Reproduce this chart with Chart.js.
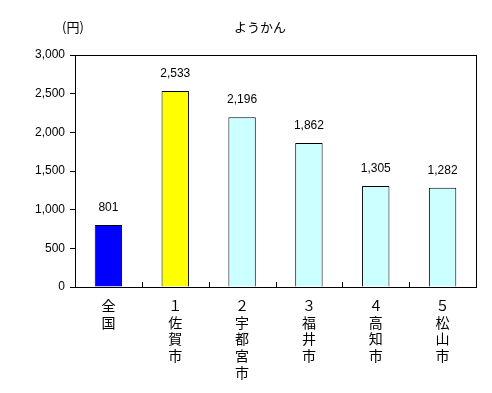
<!DOCTYPE html>
<html><head><meta charset="utf-8">
<script src="https://cdn.jsdelivr.net/npm/chart.js@4"></script>
<style>html,body{margin:0;padding:0;background:#fff}#w{width:492px;height:393px}</style>
</head><body><div id="w"><canvas id="c" width="492" height="393"></canvas></div>
<script>
const categories = [['全','国'], ['１','佐','賀','市'], ['２','宇','都','宮','市'], ['３','福','井','市'], ['４','高','知','市'], ['５','松','山','市']];
const values = [801, 2533, 2196, 1862, 1305, 1282];
const colors = ['#0000ff', '#ffff00', '#ccffff', '#ccffff', '#ccffff', '#ccffff'];
const yTicks = [0, 500, 1000, 1500, 2000, 2500, 3000];
const titleText = 'ようかん';
const unitText = '(円)';

const fmt = v => v.toLocaleString('en-US');
const numFont = '12px "Liberation Sans", Arial, sans-serif';
const jpFont = '13px "Noto Sans CJK JP", sans-serif';

const extras = {
  id: 'extras',
  afterDraw(chart) {
    const {ctx, chartArea: a, scales: {x}} = chart;
    ctx.save();
    ctx.strokeStyle = '#000';
    ctx.lineWidth = 1;
    const B = Math.round(a.bottom);
    const step = (x.getPixelForValue(1) - x.getPixelForValue(0));
    for (let i = 1; i < values.length; i++) {
      const px = Math.round(x.getPixelForValue(i) - step / 2) + 0.5;
      ctx.beginPath(); ctx.moveTo(px, B); ctx.lineTo(px, B - 5); ctx.stroke();
    }
    ctx.fillStyle = '#000';
    ctx.font = numFont; ctx.textAlign = 'center'; ctx.textBaseline = 'middle';
    const meta = chart.getDatasetMeta(0);
    meta.data.forEach((bar, i) => {
      ctx.fillText(fmt(values[i]), bar.x, bar.y - 17);
    });
    ctx.font = jpFont;
    ctx.fillText(titleText, 260, 27);
    ctx.fillText(unitText, 73, 27);
    ctx.restore();
  }
};

const edge = {display: true, color: '#000', width: 1};

new Chart(document.getElementById('c'), {
  type: 'bar',
  data: {
    labels: categories,
    datasets: [{
      data: values,
      backgroundColor: colors,
      borderColor: '#000',
      borderWidth: 1,
      barPercentage: 0.41,
      categoryPercentage: 1.0
    }]
  },
  options: {
    responsive: false,
    animation: false,
    layout: {padding: {left: 0, right: 16, top: 55, bottom: 0}},
    plugins: {legend: {display: false}, tooltip: {enabled: false}, title: {display: false}},
    scales: {
      x: {
        grid: {display: false},
        border: edge,
        ticks: {color: '#000', font: {family: '"Noto Sans CJK JP", sans-serif', size: 14, lineHeight: 1.2}, padding: 2, maxRotation: 0, autoSkip: false},
        afterFit(s) { s.height = 106; }
      },
      xTop: {
        type: 'category', position: 'top',
        grid: {display: false},
        border: edge,
        ticks: {display: false},
        afterFit(s) { s.height = 0; }
      },
      y: {
        min: 0, max: 3000,
        afterBuildTicks(s) { s.ticks = yTicks.map(v => ({value: v})); },
        grid: {display: true, drawOnChartArea: false, drawTicks: true, tickLength: 5, color: '#000'},
        border: edge,
        ticks: {color: '#000', font: {family: '"Liberation Sans", Arial, sans-serif', size: 12}, padding: 5, callback: v => fmt(v)},
        afterFit(s) { s.width = 75; }
      },
      yRight: {
        type: 'linear', position: 'right', min: 0, max: 3000,
        grid: {display: false},
        border: edge,
        ticks: {display: false},
        afterFit(s) { s.width = 0; }
      }
    }
  },
  plugins: [extras]
});
</script></body></html>
